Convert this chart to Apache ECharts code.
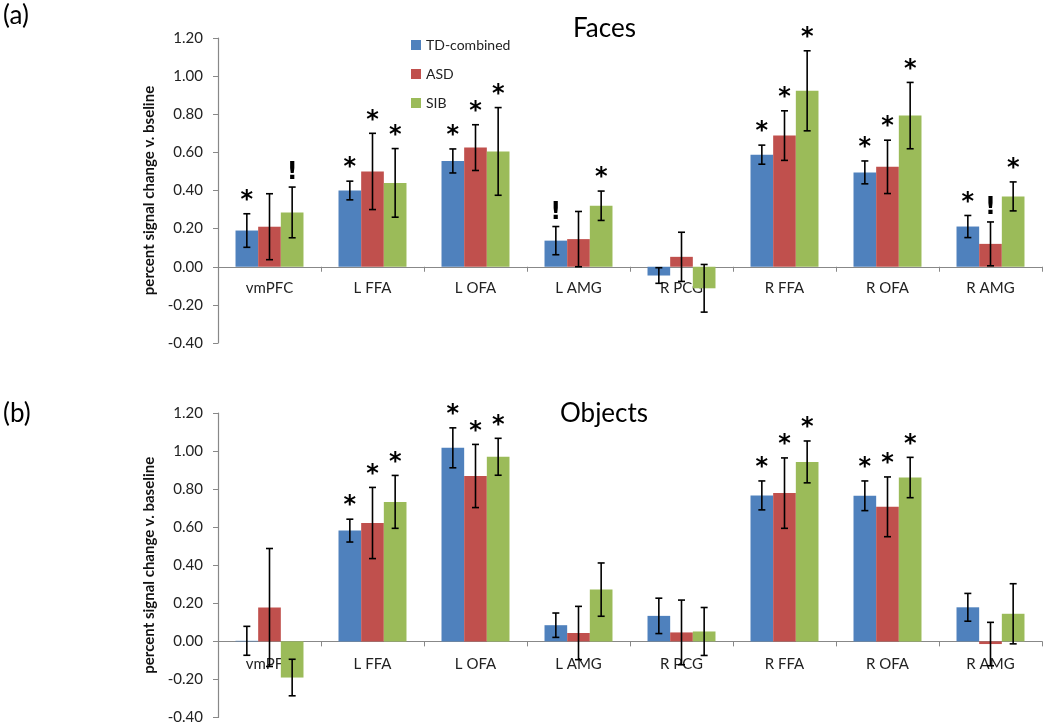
<!DOCTYPE html>
<html>
<head>
<meta charset="utf-8">
<script src="https://cdn.jsdelivr.net/npm/echarts@6/dist/echarts.min.js"></script>
<style>
  html, body { margin: 0; padding: 0; background: #fff; }
  #chart { width: 1050px; height: 725px; }
</style>
</head>
<body>
<div id="chart"></div>
<script>
// regions of interest
var categories = ['vmPFC', 'L FFA', 'L OFA', 'L AMG', 'R PCG', 'R FFA', 'R OFA', 'R AMG']
var groupNames = ['TD-combined', 'ASD', 'SIB']
var yTicks = [-0.4, 1.2, 0.2] // min, max, step

// (a) Faces: means and error half-widths
var facesTD = [0.19, 0.40, 0.555, 0.137, -0.046, 0.588, 0.495, 0.211]
var facesTDErr = [0.088, 0.049, 0.063, 0.074, 0.041, 0.05, 0.06, 0.058]
var facesASD = [0.21, 0.50, 0.625, 0.145, 0.052, 0.688, 0.524, 0.12]
var facesASDErr = [0.173, 0.20, 0.12, 0.145, 0.129, 0.13, 0.14, 0.115]
var facesSIB = [0.285, 0.44, 0.605, 0.32, -0.113, 0.923, 0.793, 0.369]
var facesSIBErr = [0.133, 0.18, 0.23, 0.077, 0.125, 0.21, 0.174, 0.076]
var facesTDMark = ['*', '*', '*', '!', '', '*', '*', '*']
var facesASDMark = ['', '*', '*', '', '', '*', '*', '!']
var facesSIBMark = ['!', '*', '*', '*', '', '*', '*', '*']

// (b) Objects
var objectsTD = [0.003, 0.582, 1.017, 0.085, 0.134, 0.767, 0.765, 0.179]
var objectsTDErr = [0.076, 0.06, 0.105, 0.064, 0.093, 0.076, 0.078, 0.073]
var objectsASD = [0.178, 0.622, 0.869, 0.044, 0.047, 0.779, 0.707, -0.014]
var objectsASDErr = [0.31, 0.187, 0.166, 0.14, 0.17, 0.185, 0.157, 0.114]
var objectsSIB = [-0.19, 0.733, 0.970, 0.272, 0.052, 0.943, 0.861, 0.145]
var objectsSIBErr = [0.096, 0.139, 0.097, 0.14, 0.126, 0.11, 0.106, 0.158]
var objectsTDMark = ['', '*', '*', '', '', '*', '*', '']
var objectsASDMark = ['', '*', '*', '', '', '*', '*', '']
var objectsSIBMark = ['', '*', '*', '', '', '*', '*', '']

var colors = ['#4F81BD', '#C0504D', '#9BBB59']
var catGap = 0.34
var fontFam = 'Lato, "Open Sans", sans-serif'

var myChart = echarts.init(document.getElementById('chart'))

// error bars + significance marks, one custom series per group
function errSeries(k, vals, errs, marks, axis) {
  return {
    type: 'custom',
    name: groupNames[k],
    xAxisIndex: axis,
    yAxisIndex: axis,
    z: 10,
    silent: true,
    data: vals.map(function (v, i) { return [i, v, errs[i]] }),
    renderItem: function (params, api) {
      var i = api.value(0), v = api.value(1), e = api.value(2)
      var hi = api.coord([i, v + e])
      var lo = api.coord([i, v - e])
      var bw = api.size([1, 0])[0] * (1 - catGap) / 3
      var x = hi[0] + (k - 1) * bw
      var cap = 3.5
      var ls = { stroke: '#000', lineWidth: 1.6 }
      var kids = [
        { type: 'line', shape: { x1: x, y1: hi[1], x2: x, y2: lo[1] }, style: ls },
        { type: 'line', shape: { x1: x - cap, y1: hi[1], x2: x + cap, y2: hi[1] }, style: ls },
        { type: 'line', shape: { x1: x - cap, y1: lo[1], x2: x + cap, y2: lo[1] }, style: ls }
      ]
      var m = marks[params.dataIndex]
      if (m) {
        kids.push({
          type: 'text',
          style: {
            text: m,
            x: x,
            y: hi[1] - (m === '*' ? 1 : 2),
            align: 'center',
            verticalAlign: 'bottom',
            font: 'bold 24px "DejaVu Sans", sans-serif',
            fill: '#000'
          }
        })
      }
      return { type: 'group', children: kids }
    }
  }
}

function barSeries(k, vals, axis) {
  return {
    type: 'bar',
    name: groupNames[k],
    xAxisIndex: axis,
    yAxisIndex: axis,
    data: vals,
    barGap: '0%',
    barCategoryGap: (catGap * 100) + '%',
    itemStyle: { color: colors[k] }
  }
}

function xAx(idx, labelMargin) {
  return {
    type: 'category',
    gridIndex: idx,
    data: categories,
    axisLine: { onZero: true, lineStyle: { color: '#888', width: 1.2 } },
    axisTick: { show: true, length: 5, lineStyle: { color: '#888' } },
    axisLabel: { color: '#222', fontSize: 15, fontFamily: fontFam, margin: labelMargin }
  }
}

function yAx(idx, name) {
  return {
    type: 'value',
    gridIndex: idx,
    min: yTicks[0],
    max: yTicks[1],
    interval: yTicks[2],
    name: name,
    nameLocation: 'middle',
    nameGap: 51,
    nameTextStyle: { color: '#111', fontSize: 15, fontWeight: 'bold', fontFamily: fontFam },
    splitLine: { show: false },
    axisLine: { show: true, lineStyle: { color: '#888', width: 1.2 } },
    axisTick: { show: true, length: 5, lineStyle: { color: '#888' } },
    axisLabel: {
      color: '#222', fontSize: 15, fontFamily: fontFam, margin: 15,
      formatter: function (v) { return v.toFixed(2) }
    }
  }
}

var option = {
  animation: false,
  color: colors,
  title: [
    { text: '(a)', left: -2, top: -2, textStyle: { fontSize: 26, fontWeight: 'normal', color: '#000', fontFamily: fontFam } },
    { text: 'Faces', left: 568, top: 11, textStyle: { fontSize: 26, fontWeight: 'normal', color: '#000', fontFamily: fontFam } },
    { text: '(b)', left: -2, top: 396, textStyle: { fontSize: 26, fontWeight: 'normal', color: '#000', fontFamily: fontFam } },
    { text: 'Objects', left: 555, top: 396, textStyle: { fontSize: 26, fontWeight: 'normal', color: '#000', fontFamily: fontFam } }
  ],
  legend: {
    data: groupNames,
    orient: 'vertical',
    left: 406,
    top: 33,
    icon: 'rect',
    itemWidth: 10,
    itemHeight: 10,
    itemGap: 15,
    textStyle: { fontSize: 14, color: '#222', fontFamily: fontFam }
  },
  grid: [
    { left: 218, right: 8, top: 38, height: 305 },
    { left: 218, right: 8, top: 413, height: 306 }
  ],
  xAxis: [xAx(0, -62), xAx(1, -61)],
  yAxis: [yAx(0, 'percent signal change v. bseline'), yAx(1, 'percent signal change v. baseline')],
  series: [
    barSeries(0, facesTD, 0),
    barSeries(1, facesASD, 0),
    barSeries(2, facesSIB, 0),
    errSeries(0, facesTD, facesTDErr, facesTDMark, 0),
    errSeries(1, facesASD, facesASDErr, facesASDMark, 0),
    errSeries(2, facesSIB, facesSIBErr, facesSIBMark, 0),
    barSeries(0, objectsTD, 1),
    barSeries(1, objectsASD, 1),
    barSeries(2, objectsSIB, 1),
    errSeries(0, objectsTD, objectsTDErr, objectsTDMark, 1),
    errSeries(1, objectsASD, objectsASDErr, objectsASDMark, 1),
    errSeries(2, objectsSIB, objectsSIBErr, objectsSIBMark, 1)
  ]
}

myChart.setOption(option)
</script>
</body>
</html>
